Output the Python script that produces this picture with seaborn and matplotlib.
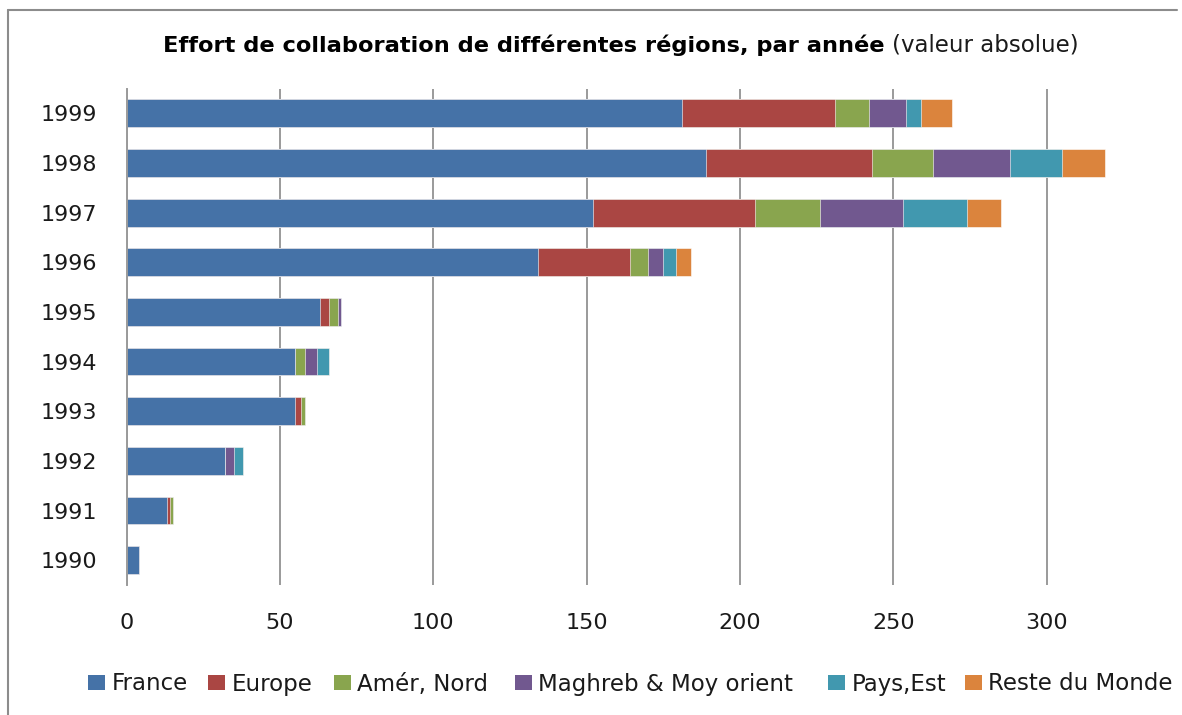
import matplotlib
matplotlib.use("Agg")
import matplotlib.pyplot as plt
from matplotlib.lines import Line2D
from matplotlib.patches import Patch
import numpy as np
import pandas as pd
import seaborn as sns

years = ["1999", "1998", "1997", "1996", "1995", "1994", "1993", "1992", "1991", "1990"]
regions = ["France", "Europe", "Amér, Nord", "Maghreb & Moy orient", "Pays,Est", "Reste du Monde"]
colors = ["#4572A7", "#AA4643", "#89A54E", "#71588F", "#4198AF", "#DB843D"]

france   = [181, 189, 152, 134, 63, 55, 55, 32, 13, 4]
europe   = [50, 54, 53, 30, 3, 0, 2, 0, 1, 0]
amer     = [11, 20, 21, 6, 3, 3, 1, 0, 1, 0]
maghreb  = [12, 25, 27, 5, 1, 4, 0, 3, 0, 0]
pays_est = [5, 17, 21, 4, 0, 4, 0, 3, 0, 0]
reste    = [10, 14, 11, 5, 0, 0, 0, 0, 0, 0]

series = [france, europe, amer, maghreb, pays_est, reste]

sns.set_theme(style="white")
plt.rcParams["font.family"] = ["DejaVu Sans"]

fig = plt.figure(figsize=(11.82, 7.15), dpi=100)
W, H = 1182, 715
ax = fig.add_axes([126.7 / W, 1 - 585 / H, (1200 - 126.7) / W, (585 - 88.5) / H])

# cumulative totals, drawn back to front so each segment shows
cum = np.cumsum(np.array(series), axis=0)
df = pd.DataFrame({"year": years})
for i in range(len(regions) - 1, -1, -1):
    df["v"] = cum[i]
    sns.barplot(data=df, x="v", y="year", order=years, color=colors[i],
                orient="h", width=0.56, saturation=1, ax=ax,
                edgecolor="white", linewidth=0.4)

ax.set_xlim(0, 350)
ax.set_xticks([0, 50, 100, 150, 200, 250, 300])
ax.set_xlabel("")
ax.set_ylabel("")
ax.grid(axis="x", color="#9a9a9a", linewidth=1.4)
ax.grid(axis="y", visible=False)
ax.set_axisbelow(True)
for s in ["top", "right", "bottom"]:
    ax.spines[s].set_visible(False)
ax.spines["left"].set_color("#9a9a9a")
ax.spines["left"].set_linewidth(1.4)
ax.tick_params(axis="both", length=0, labelsize=16, colors="#1a1a1a")
ax.tick_params(axis="y", pad=21)
ax.tick_params(axis="x", pad=20)

# chart frame
fig.add_artist(Line2D([8 / W, 8 / W], [0, 1 - 10 / H], color="#8c8c8c", lw=1.5))
fig.add_artist(Line2D([8 / W, 1177 / W], [1 - 10 / H, 1 - 10 / H], color="#8c8c8c", lw=1.5))

# title: bold part followed by a regular part
t1 = fig.text(163 / W, 1 - 45 / H, "Effort de collaboration de différentes régions, par année",
              fontsize=16.2, fontweight="bold", ha="left", va="center", color="#000000")
fig.canvas.draw()
bb = t1.get_window_extent(renderer=fig.canvas.get_renderer())
fig.text((bb.x1 + 7) / W, 1 - 45 / H, "(valeur absolue)",
         fontsize=16.5, ha="left", va="center", color="#1a1a1a")

# legend entries laid out along the bottom row
legend_x = [88, 208, 334, 515, 828, 965]
for name, c, lx in zip(regions, colors, legend_x):
    fig.legend([Patch(facecolor=c, edgecolor="none")], [name], loc="center left",
               bbox_to_anchor=(lx / W, 1 - 684 / H), frameon=False, fontsize=16.5,
               handlelength=0.72, handleheight=0.6, handletextpad=0.3,
               borderaxespad=0, borderpad=0, labelcolor="#1a1a1a")

fig.savefig("out.png", dpi=100)
